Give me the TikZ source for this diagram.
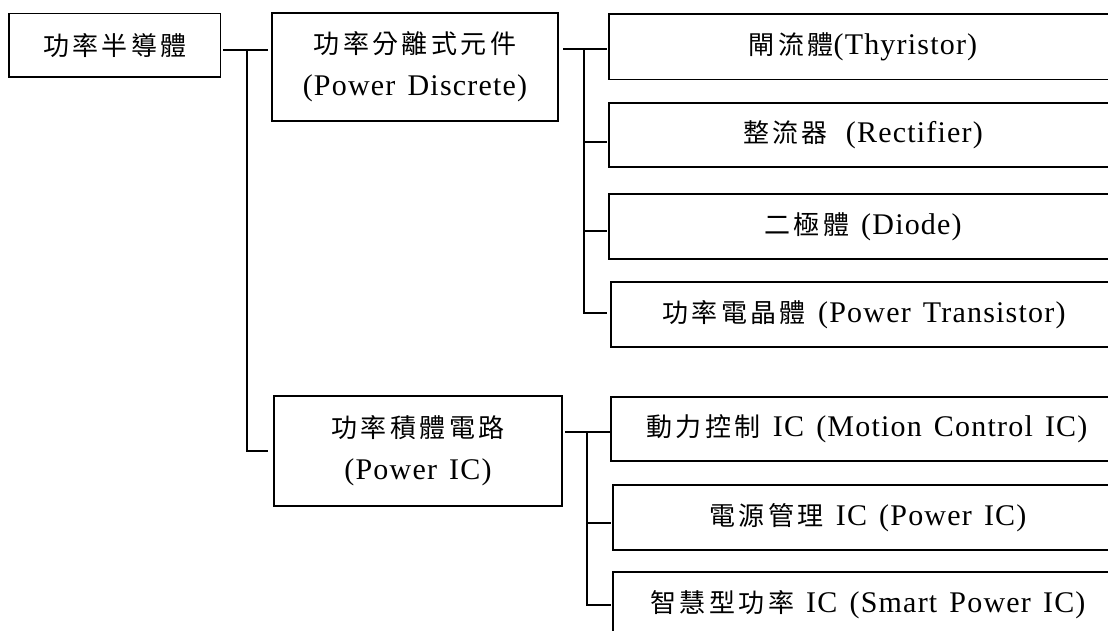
\documentclass[tikz,border=0pt]{standalone}
\usepackage{fontspec}
\setmainfont{Liberation Serif}[LetterSpace=4,WordSpace=1.4]
\newfontfamily\cjkfont{Noto Sans CJK TC}[LetterSpace=13]
\newcommand{\zh}[1]{{\cjkfont\fontsize{26}{42}\selectfont #1}}
\tikzset{
  box/.style={draw, line width=1.6pt, inner sep=0pt, align=center,
    font=\fontsize{30}{42}\selectfont},
  conn/.style={line width=1.6pt, line cap=rect}
}
\begin{document}
\begin{tikzpicture}[x=1pt,y=-1pt]
\useasboundingbox (0,0) rectangle (1108,631);
\clip (0,0) rectangle (1108,631);
% left column
\node[box, minimum width=211.7pt, minimum height=63.5pt] (root) at (114.8,45.3) {\zh{功率半導體}};
\node[box, minimum width=286pt, minimum height=108pt] (disc) at (415,67) {\zh{功率分離式元件}\\(Power Discrete)};
\node[box, minimum width=288pt, minimum height=110pt] (pic) at (418,451) {\zh{功率積體電路}\\(Power IC)};
% right column, upper
\node[box, minimum width=508pt, minimum height=65.5pt] (thy) at (863,46.7) {\zh{閘流體}(Thyristor)};
\node[box, minimum width=508pt, minimum height=64pt] (rec) at (863,135) {\zh{整流器}\hspace{18pt}(Rectifier)};
\node[box, minimum width=508pt, minimum height=65pt] (dio) at (863,226.5) {\zh{二極體} (Diode)};
\node[box, minimum width=506pt, minimum height=65pt] (tra) at (864,314.5) {\zh{功率電晶體} (Power Transistor)};
% right column, lower
\node[box, minimum width=512pt, minimum height=64pt] (mot) at (867,429) {\zh{動力控制} IC (Motion Control IC)};
\node[box, minimum width=510pt, minimum height=65pt] (pwr) at (868,517.5) {\zh{電源管理} IC (Power IC)};
\node[box, minimum width=510pt, minimum height=65pt] (sma) at (868,604.5) {\zh{智慧型功率} IC (Smart Power IC)};
% connectors from root
\coordinate (j1) at (247,50);
\draw[conn] ([xshift=2.5pt]root.east |- j1) -- ([xshift=-4pt]disc.west |- j1);
\draw[conn] (j1) |- ([xshift=-6pt]pic.west);
% connectors from discrete
\coordinate (j2) at (584,49);
\coordinate (t2) at (584,142);
\coordinate (t3) at (584,231);
\coordinate (t4) at (584,313);
\draw[conn] ([xshift=5pt]disc.east |- j2) -- ([xshift=-2pt]thy.west |- j2);
\draw[conn] (j2) -- (t4) -- ([xshift=-4pt]tra.west |- t4);
\draw[conn] (t2) -- ([xshift=-2pt]rec.west |- t2);
\draw[conn] (t3) -- ([xshift=-2pt]dio.west |- t3);
% connectors from power IC
\coordinate (j3) at (587,432);
\coordinate (u2) at (587,523);
\coordinate (u3) at (587,605);
\draw[conn] ([xshift=3pt]pic.east |- j3) -- ([xshift=-1pt]mot.west |- j3);
\draw[conn] (j3) -- (u3) -- ([xshift=-2pt]sma.west |- u3);
\draw[conn] (u2) -- ([xshift=-2pt]pwr.west |- u2);
\end{tikzpicture}
\end{document}
